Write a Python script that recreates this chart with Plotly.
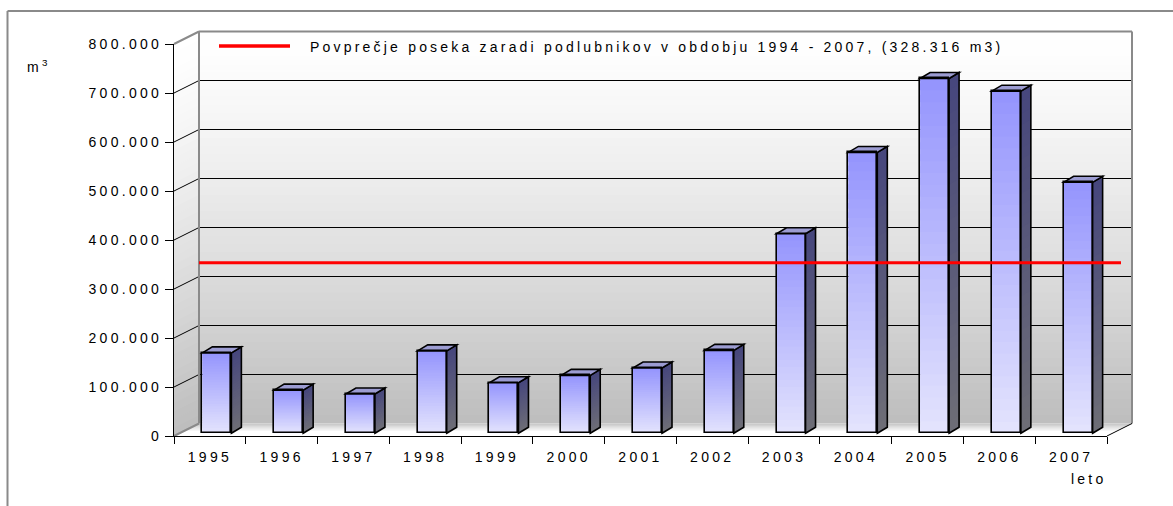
import plotly.graph_objects as go

# ---------------- data ----------------
YEARS = ["1995", "1996", "1997", "1998", "1999", "2000", "2001",
         "2002", "2003", "2004", "2005", "2006", "2007"]
VOLUMES = [164000, 88000, 80000, 168000, 103000, 118000, 133000,
           169000, 407000, 573000, 724000, 698000, 512000]
AVERAGE = 328316
Y_TICKS = [0, 100000, 200000, 300000, 400000, 500000, 600000, 700000, 800000]
LEGEND_TEXT = "Povprečje poseka zaradi podlubnikov v obdobju 1994 - 2007, (328.316 m3)"
Y_UNIT = "m<sup>3</sup>"
X_UNIT = "leto"

# ---------------- geometry (pixels) ----------------
W, H = 1173, 506
ML, MR, MT, MB = 174, 35, 31, 70
PW = W - ML - MR
PH = H - MT - MB
FX0, FX1 = 174, 1107          # front x axis extent
FY0, FY1 = 436, 44            # front y: value 0 / max
DDX, DDY = 25, 12.5           # depth offset of back wall
YMAX = Y_TICKS[-1]
NCAT = len(YEARS)
UX = (FX1 - FX0) / NCAT       # px per category
UY = (FY0 - FY1) / YMAX       # px per value unit
FONT = "Liberation Sans, Arial, sans-serif"


def pxx(x):
    return (x - ML) / PW


def pxy(y):
    return (H - MB - y) / PH


def hexc(c):
    return "#%02x%02x%02x" % tuple(int(round(v)) for v in c)


def mix(c0, c1, t):
    return hexc([a + (b - a) * t for a, b in zip(c0, c1)])


shapes = []

# outer frame
shapes.append(dict(type="line", xref="paper", yref="paper", layer="below",
                   x0=pxx(7.5), x1=pxx(W), y0=pxy(11), y1=pxy(11),
                   line=dict(color="#8a8a8a", width=2)))
shapes.append(dict(type="line", xref="paper", yref="paper", layer="below",
                   x0=pxx(7.5), x1=pxx(7.5), y0=pxy(11), y1=pxy(H),
                   line=dict(color="#8a8a8a", width=2)))


def wall_gray(t):
    # t = 0 top, 1 bottom
    v = 255 - 66 * (t ** 1.3)
    return hexc([v, v, v])


BX0, BX1 = FX0 + DDX, FX1 + DDX
BY0, BY1 = FY0 - DDY, FY1 - DDY   # back: value 0 / max
NS = 48
for k in range(NS):
    t0, t1 = k / NS, (k + 1.6) / NS
    t1 = min(t1, 1)
    col = wall_gray((k + 0.5) / NS)
    # back wall slice
    ya = BY1 + (BY0 - BY1) * t0
    yb = BY1 + (BY0 - BY1) * t1
    shapes.append(dict(type="rect", xref="paper", yref="paper", layer="below",
                       x0=pxx(BX0), x1=pxx(BX1), y0=pxy(ya), y1=pxy(yb),
                       fillcolor=col, line=dict(width=0)))
    # left wall slice
    fa = FY1 + (FY0 - FY1) * t0
    fb = FY1 + (FY0 - FY1) * t1
    path = "M %f,%f L %f,%f L %f,%f L %f,%f Z" % (
        pxx(FX0), pxy(fa), pxx(BX0), pxy(ya), pxx(BX0), pxy(yb), pxx(FX0), pxy(fb))
    shapes.append(dict(type="path", xref="paper", yref="paper", layer="below",
                       path=path, fillcolor=col, line=dict(width=0)))

# floor
NF = 10
for k in range(NF):
    d0, d1 = k / NF, min((k + 1.6) / NF, 1)
    t = (k + 0.5) / NF
    col = mix((196, 196, 196), (255, 255, 255), min(1, t / 0.65))
    xa0 = BX0 - DDX * d0
    xa1 = BX1 - DDX * d0
    ya = BY0 + DDY * d0
    xb0 = BX0 - DDX * d1
    xb1 = BX1 - DDX * d1
    yb = BY0 + DDY * d1
    path = "M %f,%f L %f,%f L %f,%f L %f,%f Z" % (
        pxx(xa0), pxy(ya), pxx(xa1), pxy(ya), pxx(xb1), pxy(yb), pxx(xb0), pxy(yb))
    shapes.append(dict(type="path", xref="paper", yref="paper", layer="below",
                       path=path, fillcolor=col, line=dict(width=0)))

# gridlines on back wall and left wall
for v in Y_TICKS:
    yf = FY0 - v * UY
    yb = BY0 - v * UY
    inner = 0 < v < YMAX
    c = "#000000" if inner else "#8a8a8a"
    w = 1 if inner else 2
    if inner:
        shapes.append(dict(type="line", xref="paper", yref="paper", layer="below",
                           x0=pxx(BX0), x1=pxx(BX1), y0=pxy(yb), y1=pxy(yb),
                           line=dict(color=c, width=w)))
    shapes.append(dict(type="line", xref="paper", yref="paper", layer="below",
                       x0=pxx(FX0), x1=pxx(BX0), y0=pxy(yf), y1=pxy(yb),
                       line=dict(color=c, width=w)))

# wall borders
for (x0, y0, x1, y1, c, w) in [
        (BX0, BY1, BX1, BY1, "#8a8a8a", 2),
        (BX0, BY1, BX0, BY0, "#8a8a8a", 2),
        (BX1, BY1, BX1, BY0, "#8a8a8a", 2),
        (FX1, FY0, BX1, BY0, "#000000", 1)]:
    shapes.append(dict(type="line", xref="paper", yref="paper", layer="below",
                       x0=pxx(x0), x1=pxx(x1), y0=pxy(y0), y1=pxy(y1),
                       line=dict(color=c, width=w)))

# ---------------- 3D bars (data coords on x / y) ----------------
SHIFT = 7 / UX
BW = 29 / UX
SDX = 10 / UX
SDY = 6 / UY
BASE = 2.8 / UY
TOP_C = (148, 148, 253)
BOT_C = (228, 228, 253)
SIDE_TOP = (70, 70, 125)
SIDE_BOT = (110, 110, 118)
NG = 30
for i, v in enumerate(VOLUMES):
    xl = i + SHIFT - BW / 2
    xr = xl + BW
    b = BASE
    t = BASE + v
    for k in range(NG):
        y0 = b + v * k / NG
        y1 = b + v * min(1, (k + 1.6) / NG)
        col = mix(BOT_C, TOP_C, (k + 0.5) / NG)
        shapes.append(dict(type="rect", xref="x", yref="y", layer="between",
                           x0=xl, x1=xr, y0=y0, y1=y1, fillcolor=col,
                           line=dict(width=0)))
        path = "M %f,%f L %f,%f L %f,%f L %f,%f Z" % (
            xr, y0, xr + SDX, y0 + SDY, xr + SDX, y1 + SDY, xr, y1)
        shapes.append(dict(type="path", xref="x", yref="y", layer="between",
                           path=path, fillcolor=mix(SIDE_BOT, SIDE_TOP, (k + 0.5) / NG),
                           line=dict(width=0)))
    side = "M %f,%f L %f,%f L %f,%f L %f,%f Z" % (
        xr, b, xr + SDX, b + SDY, xr + SDX, t + SDY, xr, t)
    shapes.append(dict(type="path", xref="x", yref="y", layer="between",
                       path=side, line=dict(color="black", width=1.6)))
    top = "M %f,%f L %f,%f L %f,%f L %f,%f Z" % (
        xl, t, xl + SDX, t + SDY, xr + SDX, t + SDY, xr, t)
    shapes.append(dict(type="path", xref="x", yref="y", layer="between",
                       path=top, fillcolor="#9c9cd2",
                       line=dict(color="black", width=1.6)))

# average line on the back wall
shapes.append(dict(type="line", xref="x2 domain", yref="y2", layer="above",
                   x0=0, x1=(1121 - BX0) / (BX1 - BX0), y0=AVERAGE, y1=AVERAGE,
                   line=dict(color="#ff0000", width=3)))
# legend sample
shapes.append(dict(type="line", xref="paper", yref="paper", layer="above",
                   x0=pxx(219), x1=pxx(290), y0=pxy(46), y1=pxy(46),
                   line=dict(color="#ff0000", width=3.5)))

fig = go.Figure()
fig.add_trace(go.Bar(
    x=YEARS, y=VOLUMES, base=BASE, width=BW, offset=SHIFT - BW / 2,
    marker=dict(color="rgba(0,0,0,0)", line=dict(color="black", width=1.6)),
    hoverinfo="x+y", showlegend=False))

annotations = [
    dict(text=LEGEND_TEXT, xref="paper", yref="paper", x=pxx(308), y=pxy(46.5),
         xanchor="left", yanchor="middle", align="left", showarrow=False,
         font=dict(family=FONT, size=14, color="black")),
    dict(text=Y_UNIT, xref="paper", yref="paper", x=pxx(25), y=pxy(66),
         xanchor="left", yanchor="middle", align="left", showarrow=False,
         font=dict(family=FONT, size=14, color="black")),
    dict(text=X_UNIT, xref="paper", yref="paper", x=pxx(1069), y=pxy(478.5),
         xanchor="left", yanchor="middle", align="left", showarrow=False,
         font=dict(family=FONT, size=14, color="black")),
]

fig.update_layout(
    width=W, height=H,
    margin=dict(l=ML, r=MR, t=MT, b=MB, pad=0),
    paper_bgcolor="white", plot_bgcolor="rgba(0,0,0,0)",
    separators=",.",
    showlegend=False,
    bargap=0,
    shapes=shapes,
    annotations=annotations,
    xaxis=dict(type="category", domain=[0, (FX1 - FX0) / PW], anchor="y",
               range=[-0.5, NCAT - 0.5], showline=True, linecolor="black",
               linewidth=1, ticks="outside", tickson="boundaries", ticklen=7,
               tickcolor="black", tickwidth=1, showgrid=False, zeroline=False,
               ticklabelstandoff=8,
               tickfont=dict(family=FONT, size=14, color="black")),
    yaxis=dict(domain=[0, (FY0 - FY1) / PH], anchor="x", range=[0, YMAX],
               tickvals=Y_TICKS, tickformat=",.0f", showline=True,
               linecolor="black", linewidth=1, ticks="outside", ticklen=8,
               tickcolor="black", tickwidth=1, showgrid=False, zeroline=False,
               tickfont=dict(family=FONT, size=14, color="black")),
    xaxis2=dict(domain=[pxx(BX0), pxx(BX1)], anchor="y2", range=[0, 1],
                visible=False),
    yaxis2=dict(domain=[pxy(BY0), pxy(BY1)], anchor="x2", range=[0, YMAX],
                visible=False),
)

POST = """
document.body.style.margin='0';
var gd=document.getElementById('{plot_id}');
gd.querySelectorAll('.xtick text, .ytick text').forEach(function(t){t.style.letterSpacing='3.3px';});
gd.querySelectorAll('.annotation-text').forEach(function(t){t.style.letterSpacing='3.2px';});
"""

fig.write_html("out.html", post_script=POST, config={"displayModeBar": False})
